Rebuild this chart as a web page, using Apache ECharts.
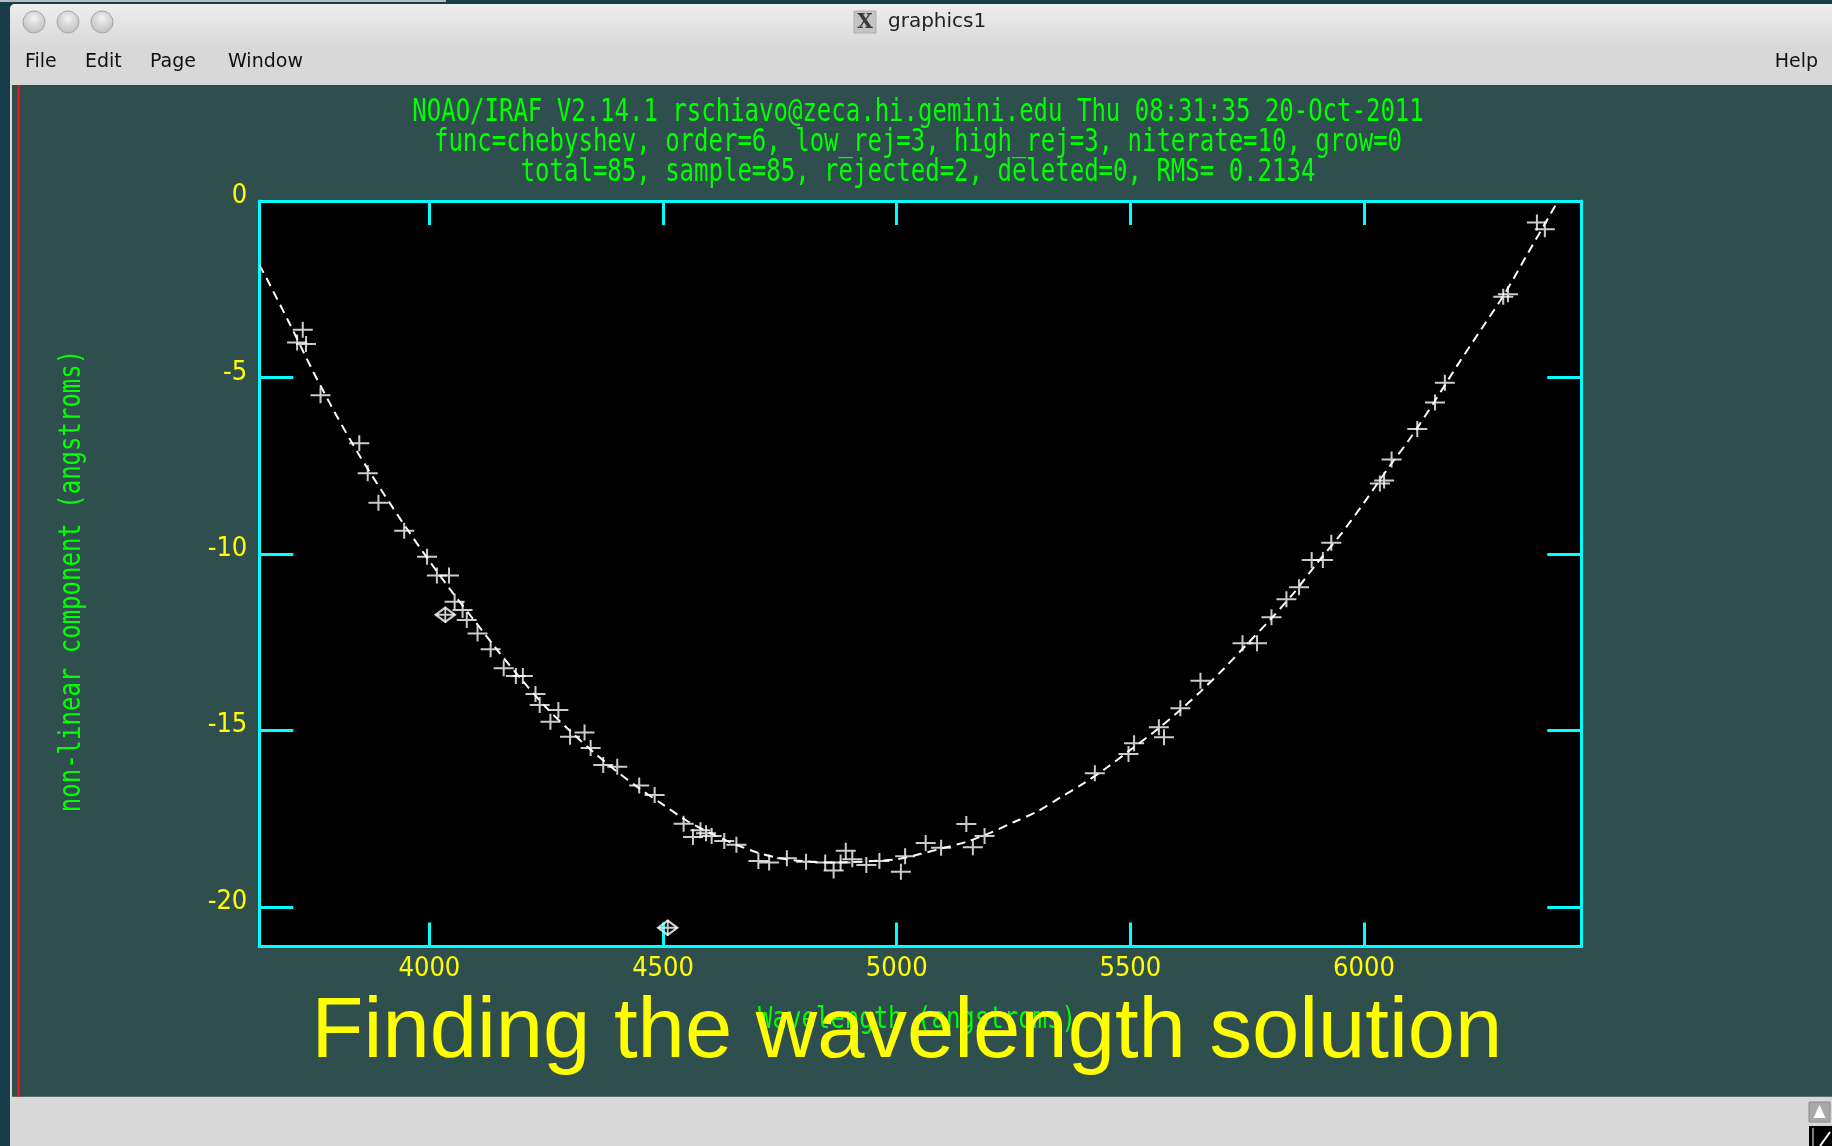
<!DOCTYPE html>
<html><head><meta charset="utf-8">
<script src="https://cdn.jsdelivr.net/npm/echarts@6/dist/echarts.min.js"></script>
<style>html,body{margin:0;padding:0;background:#173d4b;overflow:hidden}#c{width:1832px;height:1146px}</style>
</head><body><div id="c"></div>
<script>
// ---------- data ----------
const titleLines = [
  'NOAO/IRAF V2.14.1 rschiavo@zeca.hi.gemini.edu Thu 08:31:35 20-Oct-2011',
  'func=chebyshev, order=6, low_rej=3, high_rej=3, niterate=10, grow=0',
  'total=85, sample=85, rejected=2, deleted=0, RMS= 0.2134'
];
const xAxisName = 'Wavelength (angstroms)';
const yAxisName = 'non-linear component (angstroms)';
const bigCaption = 'Finding the wavelength solution';
const windowTitle = 'graphics1';
const menuItems = ['File', 'Edit', 'Page', 'Window'];
const helpItem = 'Help';

const xMin = 3636, xMax = 6465;
const yMin = -21.12, yMax = 0;
const xTicks = [4000, 4500, 5000, 5500, 6000];
const xTickLabels = ['4000', '4500', '5000', '5500', '6000'];
const yTicks = [0, -5, -10, -15, -20];
const yTickLabels = ['0', '-5', '-10', '-15', '-20'];

const waveX = [3717,3729,3736,3767,3850,3868,3891,3946,3995,4016,
  4042,4054,4071,4080,4103,4131,4159,4185,4200,4227,
  4236,4259,4276,4301,4332,4345,4372,4402,4449,4482,
  4544,4564,4580,4592,4604,4631,4657,4704,4727,4765,
  4806,4847,4865,4880,4891,4905,4935,4963,5009,5018,
  5062,5095,5149,5163,5188,5424,5496,5508,5561,5572,
  5607,5650,5740,5771,5802,5834,5861,5888,5912,5930,
  6034,6043,6059,6114,6152,6173,6298,6308,6370,6387];
const residY = [-4.01,-3.65,-4.05,-5.50,-6.86,-7.71,-8.55,-9.34,-10.08,-10.61,
  -10.61,-11.35,-11.59,-11.87,-12.25,-12.70,-13.24,-13.46,-13.46,-13.97,
  -14.28,-14.75,-14.42,-15.18,-15.06,-15.50,-15.98,-16.03,-16.56,-16.83,
  -17.64,-18.02,-17.83,-17.91,-17.99,-18.13,-18.24,-18.70,-18.74,-18.62,
  -18.72,-18.74,-18.97,-18.74,-18.41,-18.65,-18.81,-18.70,-19.00,-18.56,
  -18.19,-18.32,-17.65,-18.31,-17.99,-16.21,-15.67,-15.36,-14.91,-15.19,
  -14.37,-13.59,-12.53,-12.53,-11.79,-11.28,-10.94,-10.17,-10.17,-9.68,
  -8.00,-7.92,-7.32,-6.46,-5.71,-5.15,-2.71,-2.64,-0.61,-0.80];
const rejX = [4034, 4510];
const rejY = [-11.72, -20.59];

const fitX = [3636,3650,3700,3750,3800,3850,3900,3950,4000,4050,4100,4150,4200,4250,4300,4350,4400,4450,4500,4550,4600,4650,4700,4750,4800,4850,4900,4950,5000,5050,5100,5150,5200,5250,5300,5350,5400,5450,5500,5550,5600,5650,5700,5750,5800,5850,5900,5950,6000,6050,6100,6150,6200,6250,6300,6350,6400,6415];
const fitY = [-1.81,-2.15,-3.45,-4.8,-6.05,-7.2,-8.25,-9.25,-10.2,-11.1,-11.95,-12.8,-13.6,-14.35,-15.0,-15.6,-16.15,-16.65,-17.1,-17.55,-17.9,-18.2,-18.45,-18.62,-18.7,-18.74,-18.73,-18.7,-18.65,-18.5,-18.33,-18.15,-17.9,-17.6,-17.3,-16.9,-16.5,-16.05,-15.55,-15.05,-14.5,-13.9,-13.25,-12.55,-11.85,-11.1,-10.25,-9.45,-8.55,-7.6,-6.7,-5.7,-4.65,-3.65,-2.65,-1.5,-0.35,0];

// ---------- style ----------
const CY = '#00ffff', YEL = '#ffff00', GRN = '#00ff00', SLATE = '#2f4f4f';
const MONO = '"DejaVu Sans Mono","Liberation Mono",monospace';
const TICKFONT = '"DejaVu Sans Condensed","Liberation Sans Narrow","Liberation Sans",sans-serif';
const UI = '"DejaVu Sans","Liberation Sans",sans-serif';

const crossSym = 'path://M0,7H20V9H0Z M9,0H11V16H9Z';
const diamondSym = 'path://M11,0L22,8.5L11,17L0,8.5Z M11,2.8L3.6,8.5L11,14.2L18.4,8.5Z';

function txt(o) {
  const s = Object.assign({}, o.style);
  if (s.textAlign) s.align = s.textAlign;
  if (s.textVerticalAlign) s.verticalAlign = s.textVerticalAlign;
  return Object.assign({type: 'text', silent: true}, o, {style: s});
}

const chart = echarts.init(document.getElementById('c'), null, {renderer: 'canvas', width: 1832, height: 1146});

const axisCommonX = {
  type: 'value', min: xMin, max: xMax,
  axisLine: {show: true, onZero: false, lineStyle: {color: CY, width: 3}},
  axisTick: {show: true, inside: true, length: 24, customValues: xTicks, lineStyle: {color: CY, width: 3}},
  splitLine: {show: false}
};
const axisCommonY = {
  type: 'value', min: yMin, max: yMax,
  axisLine: {show: true, onZero: false, lineStyle: {color: CY, width: 3}},
  axisTick: {show: true, inside: true, length: 34, customValues: yTicks, lineStyle: {color: CY, width: 3}},
  splitLine: {show: false}
};

const graphics = [];
// desktop + window chrome
graphics.push({type: 'rect', z: -20, silent: true, shape: {x: 0, y: 0, width: 1832, height: 1146}, style: {fill: '#173d4b'}});
graphics.push({type: 'rect', z: -19, silent: true, shape: {x: 0, y: 0, width: 446, height: 2}, style: {fill: '#b8bcbe'}});
graphics.push({type: 'rect', z: -19, silent: true, shape: {x: 10, y: 4, width: 1822, height: 1142, r: [5, 0, 0, 0]}, style: {fill: '#d8d8d8'}});
graphics.push({type: 'rect', z: -18, silent: true, shape: {x: 10, y: 4, width: 1822, height: 44, r: [5, 0, 0, 0]},
  style: {fill: new echarts.graphic.LinearGradient(0, 0, 0, 1, [{offset: 0, color: '#eeeeee'}, {offset: 1, color: '#d8d8d8'}])}});
graphics.push({type: 'rect', z: -17, silent: true, shape: {x: 12, y: 85, width: 1820, height: 1011.7}, style: {fill: SLATE}});
graphics.push({type: 'rect', z: -16, silent: true, shape: {x: 17.5, y: 85, width: 2, height: 1011.7}, style: {fill: '#ff1010'}});
[34, 68, 102].forEach(cx => {
  graphics.push({type: 'circle', z: -16, silent: true, shape: {cx: cx, cy: 22, r: 11},
    style: {fill: new echarts.graphic.RadialGradient(0.5, 0.35, 0.7, [{offset: 0, color: '#f2f2f2'}, {offset: 1, color: '#b9b9b9'}]), stroke: '#a6a6a6', lineWidth: 1}});
});
graphics.push({type: 'rect', z: -16, silent: true, shape: {x: 854, y: 11, width: 22, height: 22}, style: {fill: '#c4c4c4', stroke: '#b0b0b0'}});
graphics.push(txt({z: -15, x: 865, y: 22.5, style: {text: 'X', fill: '#3a3a3a', font: 'bold 20px "DejaVu Serif",serif', textAlign: 'center', textVerticalAlign: 'middle'}}));
graphics.push(txt({z: -15, x: 888, y: 22, style: {text: windowTitle, fill: '#222222', font: '20px ' + UI, textAlign: 'left', textVerticalAlign: 'middle'}}));
const menuX = [25, 85, 150, 228];
menuItems.forEach((m, i) => {
  graphics.push(txt({z: -15, x: menuX[i], y: 62.5, style: {text: m, fill: '#111111', font: '19px ' + UI, textAlign: 'left', textVerticalAlign: 'middle'}}));
});
graphics.push(txt({z: -15, x: 1818, y: 62.5, style: {text: helpItem, fill: '#111111', font: '19px ' + UI, textAlign: 'right', textVerticalAlign: 'middle'}}));
// resize grip
graphics.push({type: 'rect', z: -15, silent: true, shape: {x: 1809, y: 1102, width: 21, height: 20}, style: {fill: '#a8a8a8', stroke: '#8a8a8a'}});
graphics.push({type: 'polygon', z: -14, silent: true, shape: {points: [[1819.5, 1105], [1813.5, 1118], [1825.5, 1118]]}, style: {fill: '#ffffff'}});
graphics.push({type: 'rect', z: -15, silent: true, shape: {x: 1809, y: 1126, width: 23, height: 20}, style: {fill: '#000000'}});
graphics.push({type: 'polyline', z: -14, silent: true, shape: {points: [[1813, 1128], [1813, 1146]]}, style: {stroke: '#ffffff', lineWidth: 1}});
graphics.push({type: 'polyline', z: -14, silent: true, shape: {points: [[1820, 1146], [1830, 1132]]}, style: {stroke: '#ffffff', lineWidth: 2}});

// IRAF header lines
const titleY = [113, 143, 172.5];
titleLines.forEach((t, i) => {
  graphics.push(txt({z: 10, x: 918, y: titleY[i], scaleX: 0.75, style: {text: t, fill: GRN, font: '32px ' + MONO, textAlign: 'center', textVerticalAlign: 'middle'}}));
});
// axis names (IRAF vector font, condensed)
graphics.push(txt({z: 10, x: 72, y: 581, rotation: Math.PI / 2, scaleX: 0.8, style: {text: yAxisName, fill: GRN, font: '30px ' + MONO, textAlign: 'center', textVerticalAlign: 'middle'}}));
graphics.push(txt({z: 10, x: 917, y: 1020, scaleX: 0.8, style: {text: xAxisName, fill: GRN, font: '30px ' + MONO, textAlign: 'center', textVerticalAlign: 'middle'}}));
// big caption
graphics.push(txt({z: 100, x: 907, y: 1034, style: {text: bigCaption, fill: YEL, font: '85px "Liberation Sans",Arial,sans-serif', textAlign: 'center', textVerticalAlign: 'middle'}}));

const option = {
  animation: false,
  backgroundColor: 'transparent',
  grid: {left: 259.3, top: 201, width: 1322, height: 745.5, show: true, backgroundColor: '#000000', borderWidth: 0, containLabel: false},
  xAxis: [
    Object.assign({}, axisCommonX, {position: 'bottom',
      axisLabel: {show: true, customValues: xTicks, color: YEL, fontFamily: TICKFONT, fontSize: 27, margin: 9,
        formatter: v => { const k = xTicks.indexOf(v); return k >= 0 ? xTickLabels[k] : String(v); }}}),
    Object.assign({}, axisCommonX, {position: 'top', axisLabel: {show: false}})
  ],
  yAxis: [
    Object.assign({}, axisCommonY, {position: 'left',
      axisLabel: {show: true, customValues: yTicks, color: YEL, fontFamily: TICKFONT, fontSize: 27, margin: 12,
        verticalAlign: 'bottom', lineHeight: 10,
        formatter: v => { const k = yTicks.indexOf(v); return k >= 0 ? yTickLabels[k] : String(v); }}}),
    Object.assign({}, axisCommonY, {position: 'right', axisLabel: {show: false}})
  ],
  series: [
    {name: 'fit', type: 'line', xAxisIndex: 0, yAxisIndex: 0, data: fitX.map((x, i) => [x, fitY[i]]),
      showSymbol: false, smooth: 0.3, clip: true, silent: true, z: 3,
      lineStyle: {color: '#ffffff', width: 2, type: [9, 6]}},
    {name: 'points', type: 'scatter', xAxisIndex: 0, yAxisIndex: 0, data: waveX.map((x, i) => [x, residY[i]]),
      symbol: crossSym, symbolSize: [20, 16], itemStyle: {color: '#ffffff'}, silent: true, z: 4},
    {name: 'rejected', type: 'scatter', xAxisIndex: 0, yAxisIndex: 0, data: rejX.map((x, i) => [x, rejY[i]]),
      symbol: crossSym, symbolSize: [18, 16], itemStyle: {color: '#ffffff'}, silent: true, z: 4},
    {name: 'rejectedMark', type: 'scatter', xAxisIndex: 0, yAxisIndex: 0, data: rejX.map((x, i) => [x, rejY[i]]),
      symbol: diamondSym, symbolSize: [23, 17], itemStyle: {color: '#ffffff'}, silent: true, z: 4}
  ],
  graphic: graphics
};
chart.setOption(option);
</script></body></html>
